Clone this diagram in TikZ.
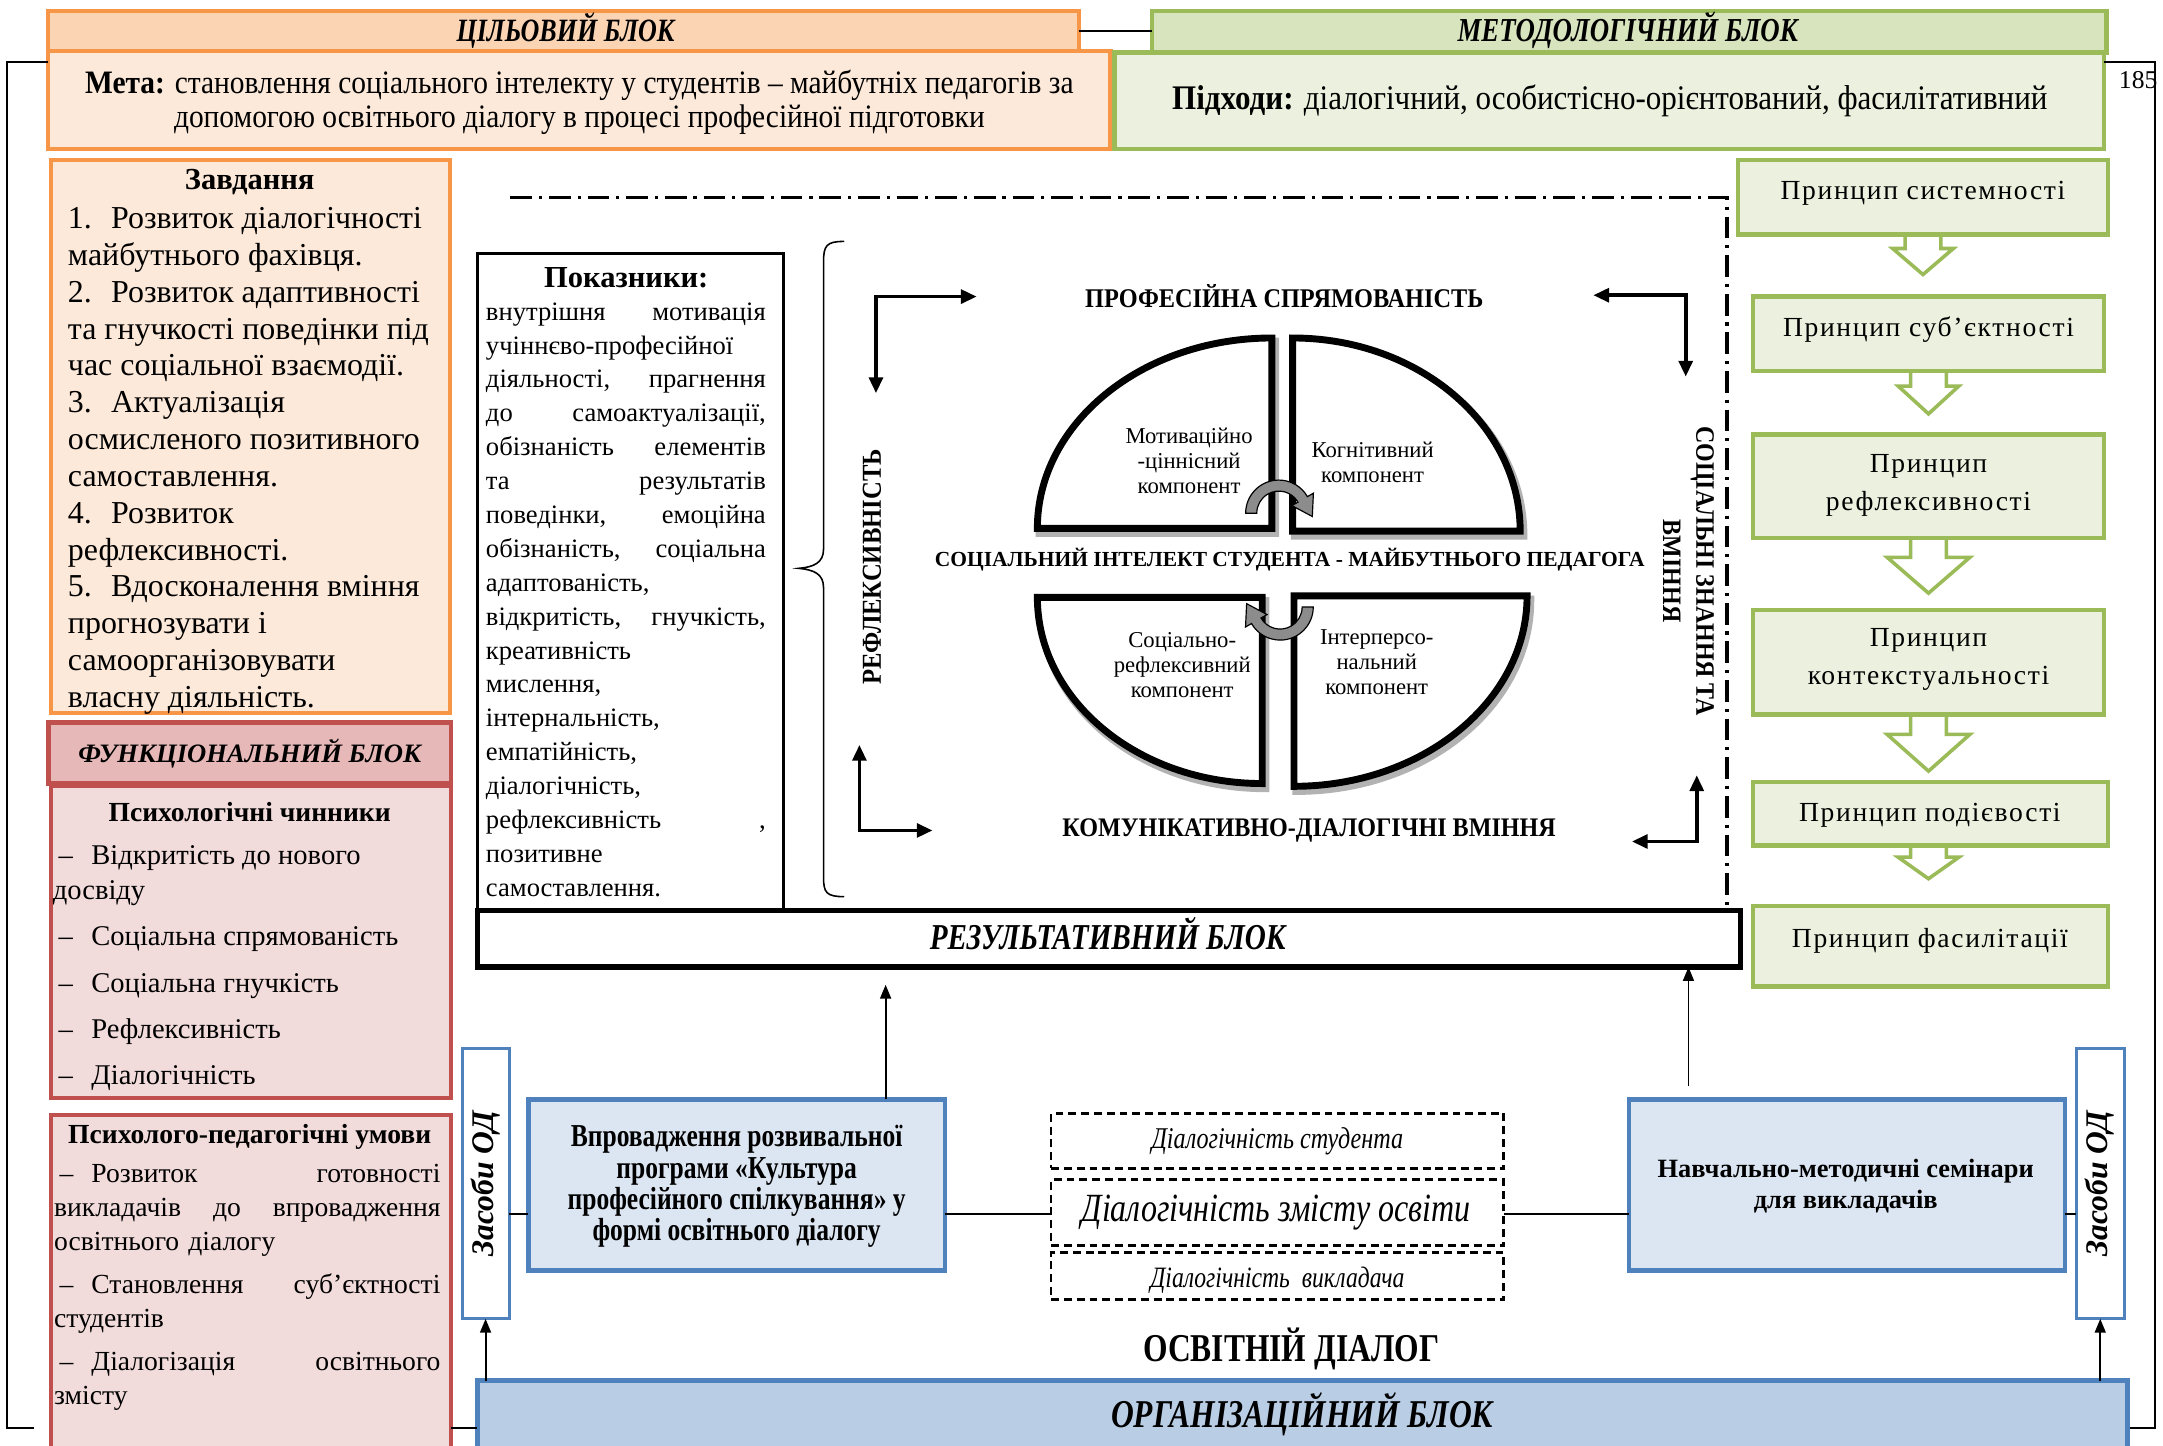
\documentclass[tikz,border=0pt]{standalone}
\usepackage{fontspec}
\setmainfont{Liberation Serif}
\newfontfamily\condf[FakeStretch=0.8]{Liberation Serif}
\newfontfamily\semcondf[FakeStretch=0.9]{Liberation Serif}
\usetikzlibrary{arrows.meta,calc,fit}
\definecolor{orB}{HTML}{F79646}
\definecolor{orH}{HTML}{FBD4B4}
\definecolor{orL}{HTML}{FDE9D9}
\definecolor{grB}{HTML}{9BBB59}
\definecolor{grH}{HTML}{D7E4BD}
\definecolor{grL}{HTML}{EBF1DE}
\definecolor{rdB}{HTML}{C0504D}
\definecolor{rdH}{HTML}{E6B9B8}
\definecolor{rdL}{HTML}{F2DCDB}
\definecolor{blB}{HTML}{4F81BD}
\definecolor{blL}{HTML}{DCE6F2}
\definecolor{blH}{HTML}{B9CDE5}
\newcommand\fsz[2]{\fontsize{#1}{#2}\selectfont}
\newcommand\chev[4]{%
 \draw[grB, line width=1.8pt, fill=white, line join=miter]
 ({#1-13},#2) -- ({#1-13},{#2+0.35*(#3-#2)}) -- ({#1-#4},{#2+0.35*(#3-#2)}) -- (#1,#3)
 -- ({#1+#4},{#2+0.35*(#3-#2)}) -- ({#1+13},{#2+0.35*(#3-#2)}) -- ({#1+13},#2);}
\begin{document}
\begin{tikzpicture}[x=0.7pt,y=-0.7pt,
 box/.style={inner sep=0pt, outer sep=0pt, rectangle},
 lbl/.style={inner sep=0pt, align=center},
 orbox/.style={box, draw=orB, line width=2.2pt},
 grbox/.style={box, draw=grB, line width=2.2pt},
 rdbox/.style={box, draw=rdB, line width=2.4pt},
 blbox/.style={box, draw=blB, line width=2.2pt},
 dbox/.style={box, draw=black, dash pattern=on 4pt off 2.5pt, line width=1.3pt},
 thinline/.style={line width=0.8pt},
 midline/.style={line width=1.3pt},
 arr/.style={-{Triangle[length=7pt,width=5.5pt]}, line width=1pt},
 carr/.style={{Triangle[length=8pt,width=7pt]}-{Triangle[length=8pt,width=7pt]}, line width=1.8pt},
 quad/.style={draw=black, line width=3.5pt, fill=white, line join=miter},
 qshadow/.style={draw=black!30, line width=4.5pt, shift={(2,3)}},
 ddash/.style={line width=1.8pt, dash pattern=on 11pt off 3.5pt on 1.6pt off 3.5pt},
 ptext/.style={lbl, font=\fsz{14}{19}\addfontfeature{LetterSpace=6}},
]
\useasboundingbox (0,0) rectangle (1568,1048);
\fill[white] (0,0) rectangle (1568,1048);

% ---------- top blocks
\node[orbox, fill=orL, fit={(35,37) (805,108)}] (meta) {};
\node[lbl, font=\semcondf\fsz{16.6}{17.5}] (metatext) at (420,74)
 {{\bfseries Мета:} становлення соціального інтелекту у студентів – майбутніх педагогів за\\допомогою освітнього діалогу в процесі професійної підготовки};
\node[orbox, fill=orH, fit={(35,8) (782,37)}] (goalhdr) {};
\node[lbl, font=\condf\bfseries\itshape\fsz{16.5}{17}] (goaltext) at (410,22) {ЦІЛЬОВИЙ БЛОК};
\node[grbox, fill=grL, fit={(808,38) (1525,108)}] (approach) {};
\node[lbl, font=\semcondf\fsz{17.5}{20}] (apptext) at (1167,73)
 {{\bfseries Підходи:} діалогічний, особистісно-орієнтований, фасилітативний};
\node[grbox, fill=grH, fit={(835,8) (1527,38)}] (methhdr) {};
\node[lbl, font=\condf\bfseries\itshape\fsz{17}{17}] (methtext) at (1180,22) {МЕТОДОЛОГІЧНИЙ БЛОК};
\draw[thinline] (goalhdr.east) -- (methhdr.west |- goalhdr.east);
\node[font=\fsz{13}{15}] (pnum) at (1550,58) {185};

% outer brackets
\coordinate (lbt) at (5,45);
\coordinate (lbb) at (5,1035);
\coordinate (rbt) at (1562,45);
\coordinate (rbb) at (1562,1035);
\draw[thinline] (meta.west |- lbt) -- (lbt) -- (lbb) -- ++(20,0);
\draw[thinline] (approach.east |- rbt) -- (rbt) -- (rbb) -- ++(-18,0);

% ---------- left column
\node[orbox, fill=orL, fit={(37,116) (326,517)}] (tasks) {};
\node[lbl, font=\bfseries\fsz{15.5}{18}] (taskstitle) at (181,132) {Завдання};
\node[anchor=north west, inner sep=0pt, align=left, font=\fsz{16.2}{18.7}] (taskbody) at (49,150)
 {1.\hspace{0.6em}Розвиток діалогічності\\майбутнього фахівця.\\2.\hspace{0.6em}Розвиток адаптивності\\та гнучкості поведінки під\\час соціальної взаємодії.\\3.\hspace{0.6em}Актуалізація\\осмисленого позитивного\\самоставлення.\\4.\hspace{0.6em}Розвиток\\рефлексивності.\\5.\hspace{0.6em}Вдосконалення вміння\\прогнозувати і\\самоорганізовувати\\власну діяльність.};

\node[rdbox, fill=rdL, line width=2pt, fit={(37,570) (327,796)}] (factors) {};
\node[rdbox, fill=rdH, fit={(35,524) (327,568)}] (funchdr) {};
\node[lbl, font=\bfseries\itshape\fsz{13.5}{16}] (functext) at (181,546) {ФУНКЦІОНАЛЬНИЙ БЛОК};
\node[lbl, font=\bfseries\fsz{14}{17}] (factitle) at (181,589) {Психологічні чинники};
\node[anchor=north west, inner sep=0pt, align=left, font=\fsz{14.5}{17.5}] (factbody) at (38,613)
 {\hspace{0.2em}–\hspace{0.65em}Відкритість до нового\\досвіду\\[6pt]\hspace{0.2em}–\hspace{0.65em}Соціальна спрямованість\\[6pt]\hspace{0.2em}–\hspace{0.65em}Соціальна гнучкість\\[6pt]\hspace{0.2em}–\hspace{0.65em}Рефлексивність\\[6pt]\hspace{0.2em}–\hspace{0.65em}Діалогічність};

\node[rdbox, fill=rdL, line width=2pt, fit={(37,808) (327,1065)}] (conds) {};
\node[lbl, font=\bfseries\fsz{14}{17}] (condtitle) at (181,824) {Психолого-педагогічні умови};
\node[anchor=north west, inner sep=0pt, text width=196pt, align=left, font=\fsz{14}{17.2}] (condbody) at (39,844)
 {\hspace{0.2em}–\hspace{0.65em}Розвиток\hfill готовності\\викладачів\hfill до\hfill впровадження\\освітнього діалогу\\[4.5pt]\hspace{0.2em}–\hspace{0.65em}Становлення\hfill суб’єктності\\студентів\\[4.5pt]\hspace{0.2em}–\hspace{0.65em}Діалогізація\hfill освітнього\\змісту};

% ---------- indicators
\node[box, draw=black, line width=1.5pt, fill=white, fit={(346,184) (568,660)}] (ind) {};
\node[lbl, font=\bfseries\fsz{15.5}{18}] (indtitle) at (454,201) {Показники:};
\node[anchor=north west, inner sep=0pt, text width=142pt, align=left, font=\fsz{13.5}{17.2}] (indbody) at (352,219)
 {внутрішня\hfill мотивація\\учіннєво-професійної\\діяльності,\hfill прагнення\\до\hfill самоактуалізації,\\обізнаність\hfill елементів\\та\hfill результатів\\поведінки,\hfill емоційна\\обізнаність,\hfill соціальна\\адаптованість,\\відкритість,\hfill гнучкість,\\креативність\\мислення,\\інтернальність,\\емпатійність,\\діалогічність,\\рефлексивність\hfill ,\\позитивне\\самоставлення.};

% brace
\draw[thinline] (612,175) .. controls (599,175) and (597,178) .. (597,190) -- (597,398)
 .. controls (597,408) and (590,411) .. (579,412) .. controls (590,413) and (597,416) .. (597,426)
 -- (597,636) .. controls (597,647) and (599,650) .. (612,650);

% dash-dot frame
\coordinate (ddA) at (370,143);
\coordinate (ddB) at (1252,143);
\coordinate (ddC) at (1252,660);
\draw[ddash] (ddA) -- (ddB) -- (ddC);

% ---------- core quadrants
\draw[qshadow] (922,383) -- (752,383) arc[start angle=180,end angle=270,x radius=170,y radius=138] -- cycle;
\draw[qshadow] (937,385) -- (937,245) arc[start angle=270,end angle=360,x radius=165,y radius=140] -- cycle;
\draw[qshadow] (915,433) -- (752,433) arc[start angle=180,end angle=90,x radius=163,y radius=135] -- cycle;
\draw[qshadow] (938,432) -- (1107,432) arc[start angle=0,end angle=90,x radius=169,y radius=138] -- cycle;
\draw[quad] (922,383) -- (752,383) arc[start angle=180,end angle=270,x radius=170,y radius=138] -- cycle;
\draw[quad] (937,385) -- (937,245) arc[start angle=270,end angle=360,x radius=165,y radius=140] -- cycle;
\draw[quad] (915,433) -- (752,433) arc[start angle=180,end angle=90,x radius=163,y radius=135] -- cycle;
\draw[quad] (938,432) -- (1107,432) arc[start angle=0,end angle=90,x radius=169,y radius=138] -- cycle;

\node[lbl, font=\fsz{11.5}{12.6}] (q1) at (862,334) {Мотиваційно\\-ціннісний\\компонент};
\node[lbl, font=\fsz{11.5}{12.6}] (q2) at (995,335) {Когнітивний\\компонент};
\node[lbl, font=\fsz{11.5}{12.6}] (q3) at (857,482) {Соціально-\\рефлексивний\\компонент};
\node[lbl, font=\fsz{11.5}{12.6}] (q4) at (998,480) {Інтерперсо-\\нальний\\компонент};

% curved arrows
\filldraw[fill=black!45, draw=black, line width=0.6pt] (903,372) arc[start angle=180,end angle=330,radius=24]
 -- (952.1,357.5) -- (951.3,374.4) -- (936.5,366.5) -- (940.9,364) arc[start angle=330,end angle=180,radius=16] -- cycle;
\filldraw[fill=black!45, draw=black, line width=0.6pt] (952,440) arc[start angle=0,end angle=150,radius=24]
 -- (902.9,454.5) -- (903.7,437.6) -- (918.5,445.5) -- (914.1,448) arc[start angle=150,end angle=0,radius=16] -- cycle;

% labels
\node[lbl, font=\semcondf\bfseries\fsz{13.7}{14}] (lprof) at (931,215) {ПРОФЕСІЙНА СПРЯМОВАНІСТЬ};
\node[lbl, font=\bfseries\fsz{10.9}{12}] (lcore) at (935,406) {СОЦІАЛЬНИЙ ІНТЕЛЕКТ СТУДЕНТА - МАЙБУТНЬОГО ПЕДАГОГА};
\node[lbl, font=\semcondf\bfseries\fsz{13.6}{14}] (lcomm) at (949,602) {КОМУНІКАТИВНО-ДІАЛОГІЧНІ ВМІННЯ};
\node[lbl, font=\semcondf\bfseries\fsz{13.9}{14}, rotate=90] (lrefl) at (632,411) {РЕФЛЕКСИВНІСТЬ};
\node[lbl, font=\semcondf\bfseries\fsz{13.5}{16.8}, rotate=-90] (lsoc) at (1224,414) {СОЦІАЛЬНІ ЗНАННЯ ТА\\ВМІННЯ};

% corner arrows
\coordinate (c1a) at (708,215); \coordinate (c1b) at (635,215); \coordinate (c1c) at (635,285);
\coordinate (c2a) at (1155,214); \coordinate (c2b) at (1222,214); \coordinate (c2c) at (1222,273);
\coordinate (c3a) at (623,540); \coordinate (c3b) at (623,602); \coordinate (c3c) at (676,602);
\coordinate (c4a) at (1230,562); \coordinate (c4b) at (1230,610); \coordinate (c4c) at (1183,610);
\draw[carr] (c1a) -- (c1b) -- (c1c);
\draw[carr] (c2a) -- (c2b) -- (c2c);
\draw[carr] (c3a) -- (c3b) -- (c3c);
\draw[carr] (c4a) -- (c4b) -- (c4c);

% result block
\node[box, draw=black, line width=2.6pt, fill=white, fit={(346,660) (1262,701)}] (res) {};
\node[lbl, font=\condf\bfseries\itshape\fsz{18.5}{19}] (restext) at (803,677) {РЕЗУЛЬТАТИВНИЙ БЛОК};

% ---------- principles
\chev{1394}{170}{199}{22}
\chev{1398}{269}{300}{22}
\chev{1398}{390}{430}{30}
\chev{1398}{518}{559}{30}
\chev{1398}{613}{637}{22}
\node[grbox, fill=grL, fit={(1260,116) (1528,170)}] (p1) {};
\node[grbox, fill=grL, fit={(1271,215) (1525,269)}] (p2) {};
\node[grbox, fill=grL, fit={(1271,315) (1525,390)}] (p3) {};
\node[grbox, fill=grL, fit={(1271,442) (1525,518)}] (p4) {};
\node[grbox, fill=grL, fit={(1271,567) (1528,613)}] (p5) {};
\node[grbox, fill=grL, fit={(1271,657) (1528,715)}] (p6) {};
\node[ptext] (p1t) at (1394,140) {Принцип системності};
\node[ptext] (p2t) at (1398,239) {Принцип суб’єктності};
\node[ptext] (p3t) at (1398,352) {Принцип\\рефлексивності};
\node[ptext] (p4t) at (1398,478) {Принцип\\контекстуальності};
\node[ptext] (p5t) at (1399,591) {Принцип подієвості};
\node[ptext] (p6t) at (1399,682) {Принцип фасилітації};

% ---------- organisational part
\node[blbox, line width=2.6pt, fill=blH, fit={(346,1001) (1542,1065)}] (org) {};
\node[lbl, font=\condf\bfseries\itshape\fsz{20}{20}] (orgtext) at (944,1025) {ОРГАНІЗАЦІЙНИЙ БЛОК};

\node[blbox, line width=1.5pt, fill=white, fit={(335,760) (369,956)}] (zl) {};
\node[lbl, font=\bfseries\itshape\fsz{16}{16}, rotate=90] (zltext) at (352,858) {Засоби ОД};
\node[blbox, line width=1.5pt, fill=white, fit={(1505,760) (1540,956)}] (zr) {};
\node[lbl, font=\bfseries\itshape\fsz{16}{16}, rotate=90] (zrtext) at (1522,858) {Засоби ОД};

\node[blbox, fill=blL, fit={(383,797) (685,921)}] (vpr) {};
\node[lbl, font=\condf\bfseries\fsz{16.2}{15.8}] (vprtext) at (534,860)
 {Впровадження розвивальної\\програми «Культура\\професійного спілкування» у\\формі освітнього діалогу};
\node[blbox, fill=blL, fit={(1181,797) (1497,921)}] (sem) {};
\node[lbl, font=\bfseries\fsz{13.4}{15.5}] (semtext) at (1338,860) {Навчально-методичні семінари\\для викладачів};

\node[dbox, fit={(762,807) (1090,847)}] (d1) {};
\node[dbox, fit={(762,855) (1090,903)}] (d2) {};
\node[dbox, fit={(762,908) (1090,942)}] (d3) {};
\node[lbl, font=\condf\itshape\fsz{15.3}{16}] (d1t) at (926,827) {Діалогічність студента};
\node[lbl, font=\condf\itshape\fsz{20.3}{21}] (d2t) at (925,879) {Діалогічність змісту освіти};
\node[lbl, font=\condf\itshape\fsz{15}{16}] (d3t) at (926,928) {Діалогічність\ \ викладача};
\node[lbl, font=\condf\bfseries\fsz{20}{20}] (dialog) at (936,978) {ОСВІТНІЙ ДІАЛОГ};

\coordinate (lvl) at (0,880);
\draw[thinline] (zl.east |- lvl) -- (vpr.west |- lvl);
\draw[midline] (vpr.east |- lvl) -- (d2.west |- lvl);
\draw[midline] (d2.east |- lvl) -- (sem.west |- lvl);
\draw[thinline] (sem.east |- lvl) -- (zr.west |- lvl);
\draw[arr] (zl.south |- org.north) -- (zl.south);
\draw[arr] (zr.south |- org.north) -- (zr.south);
\coordinate (va) at (642,797);
\coordinate (sa) at (1224,787);
\draw[arr, shorten >=9pt] (va) -- (va |- res.south);
\draw[arr] (sa) -- (sa |- res.south);
\draw[thinline] (conds.east |- lbb) -- (org.west |- lbb);
\end{tikzpicture}
\end{document}
